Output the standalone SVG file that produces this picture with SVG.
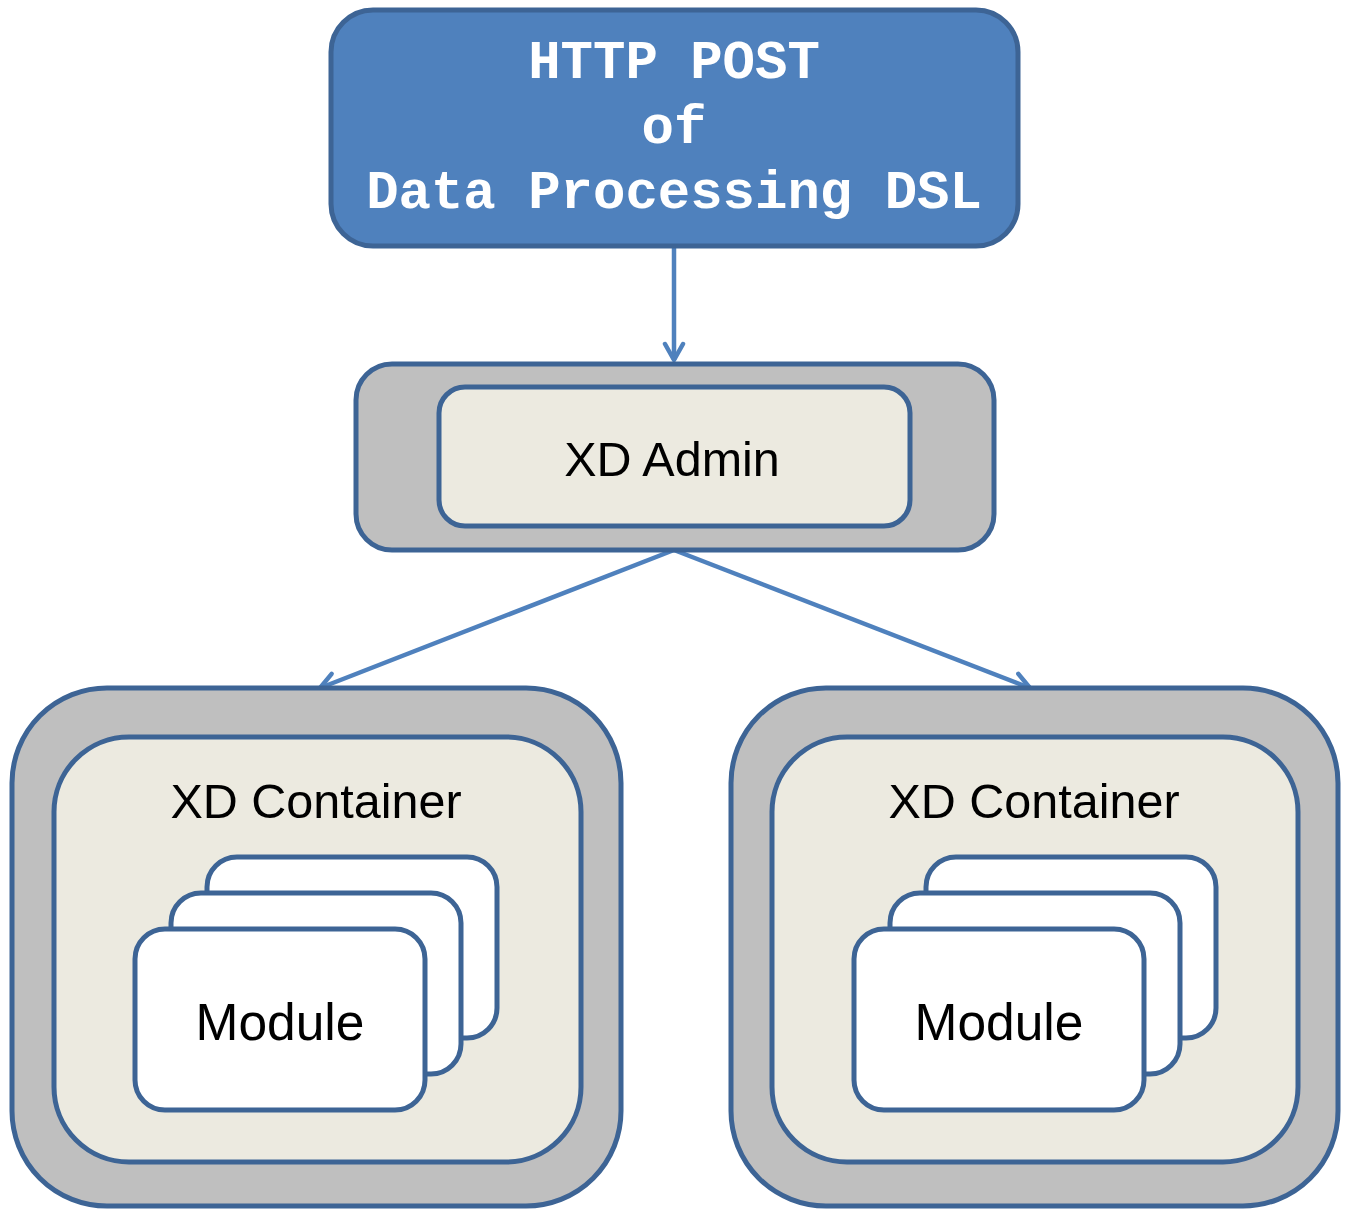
<svg xmlns="http://www.w3.org/2000/svg" width="1349" height="1209" viewBox="0 0 1349 1209">
<style>
.box{stroke:#3d6495;stroke-width:5}
.outer{fill:#bfbfbf}
.inner{fill:#eceae0}
.card{fill:#ffffff}
.top{fill:#4f81bd}
.conn{fill:none;stroke:#4f81bd;stroke-width:4.5}
.lbl{font-family:"Liberation Sans",Arial,sans-serif;fill:#000;text-anchor:middle}
.mono{font-family:"Liberation Mono","Courier New",monospace;font-weight:bold;fill:#fff;text-anchor:middle;font-size:54px}
</style>
<defs>
<marker id="arr" viewBox="0 0 24 24" refX="21" refY="12" markerWidth="24" markerHeight="24" markerUnits="userSpaceOnUse" orient="auto">
<path d="M5,3 L21,12 L5,21" fill="none" stroke="#4f81bd" stroke-width="4.5" stroke-linecap="round" stroke-linejoin="round"/>
</marker>
</defs>
<rect width="1349" height="1209" fill="#fff"/>
<g id="connectors">
<line class="conn" x1="674" y1="248" x2="674" y2="360" marker-end="url(#arr)"/>
<line class="conn" x1="674" y1="550" x2="320" y2="688" marker-end="url(#arr)"/>
<line class="conn" x1="674" y1="550" x2="1030" y2="688" marker-end="url(#arr)"/>
</g>
<g id="http-post">
<rect class="box top" x="331" y="10" width="687" height="236" rx="42"/>
<text class="mono" x="674" y="78">HTTP POST</text>
<text class="mono" x="674" y="143">of</text>
<text class="mono" x="674" y="208">Data Processing DSL</text>
</g>
<g id="xd-admin">
<rect class="box outer" x="356" y="364" width="638" height="186" rx="36"/>
<rect class="box inner" x="439" y="387" width="471" height="139" rx="26"/>
<text class="lbl" x="672" y="476" font-size="48.5">XD Admin</text>
</g>
<g id="container-left">
<rect class="box outer" x="12" y="688" width="609" height="518" rx="95"/>
<rect class="box inner" x="54" y="737" width="527" height="425" rx="75"/>
<text class="lbl" x="316" y="818" font-size="48.5">XD Container</text>
<g id="modules-left">
<rect class="box card" x="207" y="857" width="290" height="181" rx="30"/>
<rect class="box card" x="171" y="893" width="290" height="181" rx="30"/>
<rect class="box card" x="135" y="929" width="290" height="181" rx="30"/>
<text class="lbl" x="280" y="1040" font-size="51.5">Module</text>
</g>
</g>
<g id="container-right">
<rect class="box outer" x="731" y="688" width="607" height="518" rx="95"/>
<rect class="box inner" x="772" y="737" width="526" height="425" rx="75"/>
<text class="lbl" x="1034" y="818" font-size="48.5">XD Container</text>
<g id="modules-right">
<rect class="box card" x="926" y="857" width="290" height="181" rx="30"/>
<rect class="box card" x="890" y="893" width="290" height="181" rx="30"/>
<rect class="box card" x="854" y="929" width="290" height="181" rx="30"/>
<text class="lbl" x="999" y="1040" font-size="51.5">Module</text>
</g>
</g>
</svg>
